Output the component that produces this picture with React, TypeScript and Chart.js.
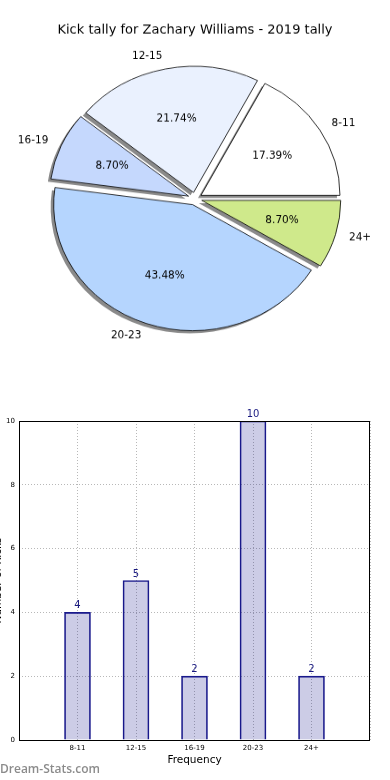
import { useEffect, useRef } from 'react';
import { Chart, registerables } from 'chart.js';

Chart.register(...registerables);

const TITLE = 'Kick tally for Zachary Williams - 2019 tally';
const categories = ['8-11', '12-15', '16-19', '20-23', '24+'];
const kicks = [4, 5, 2, 10, 2];
const pieColors = ['#ffffff', '#eaf1fe', '#c5d8fd', '#b5d5fe', '#cfe98b'];
const yTickValues = [0, 2, 4, 6, 8, 10];
const X_TITLE = 'Frequency';
const Y_TITLE = 'Number of Kicks';
const WATERMARK = 'Dream-Stats.com';

const FONT = "'DejaVu Sans', sans-serif";
const PIE_SCALE_Y = 0.907;
const PIE_RADIUS = 139;
const EXPLODE = 7;
const SHADOW_DX = -3;
const SHADOW_DY = 3;

const total = kicks.reduce((a, b) => a + b, 0);
// matplotlib draws counter-clockwise from 3 o'clock; Chart.js goes clockwise, so reverse
const pieOrder = categories.map((_, i) => categories.length - 1 - i);

function pieText(ctx: CanvasRenderingContext2D, text: string, x: number, y: number, align: CanvasTextAlign, size: number) {
  ctx.save();
  ctx.translate(x, y);
  ctx.scale(1, 1 / PIE_SCALE_Y);
  ctx.font = `${size}px ${FONT}`;
  ctx.fillStyle = '#000';
  ctx.textAlign = align;
  ctx.textBaseline = 'middle';
  ctx.fillText(text, 0, 0);
  ctx.restore();
}

const piePlugin = {
  id: 'pieDecor',
  afterDatasetsUpdate(chart: any) {
    const { chartArea } = chart;
    const cx = (chartArea.left + chartArea.right) / 2;
    const cy = (chartArea.top + chartArea.bottom) / 2;
    chart.getDatasetMeta(0).data.forEach((el: any) => {
      const mid = (el.startAngle + el.endAngle) / 2;
      el.x = cx + Math.cos(mid) * EXPLODE;
      el.y = cy + Math.sin(mid) * EXPLODE;
    });
  },
  beforeDatasetsDraw(chart: any) {
    const ctx = chart.ctx;
    ctx.save();
    ctx.translate(SHADOW_DX, SHADOW_DY);
    chart.getDatasetMeta(0).data.forEach((el: any) => {
      const saved = el.options;
      el.options = { ...saved, backgroundColor: 'rgba(30,30,30,0.52)', borderWidth: 0, borderColor: 'rgba(0,0,0,0)' };
      el.draw(ctx);
      el.options = saved;
    });
    ctx.restore();
  },
  afterDatasetsDraw(chart: any) {
    const ctx = chart.ctx;
    chart.getDatasetMeta(0).data.forEach((el: any, i: number) => {
      const idx = pieOrder[i];
      const mid = (el.startAngle + el.endAngle) / 2;
      const r = el.outerRadius;
      const c = Math.cos(mid), s = Math.sin(mid);
      pieText(ctx, categories[idx], el.x + c * r * 1.1, el.y + s * r * 1.1, c >= 0 ? 'left' : 'right', 10.5);
      const pct = ((kicks[idx] / total) * 100).toFixed(2) + '%';
      pieText(ctx, pct, el.x + c * r * 0.6, el.y + s * r * 0.6, 'center', 10.5);
    });
    pieText(ctx, TITLE, chart.width / 2, 30 / PIE_SCALE_Y, 'center', 13);
  },
};

const barPlugin = {
  id: 'barDecor',
  afterDatasetsDraw(chart: any) {
    const ctx = chart.ctx;
    const { left, top, right, bottom } = chart.chartArea;
    ctx.save();
    ctx.strokeStyle = '#000';
    ctx.lineWidth = 1;
    ctx.strokeRect(left + 0.5, top + 0.5, right - left - 1, bottom - top);
    ctx.font = `10px ${FONT}`;
    ctx.fillStyle = '#1a1a80';
    ctx.textAlign = 'center';
    ctx.textBaseline = 'alphabetic';
    chart.getDatasetMeta(0).data.forEach((bar: any, i: number) => {
      ctx.fillText(String(kicks[i]), bar.x, bar.y - 4);
    });
    ctx.font = `600 12px 'Open Sans', sans-serif`;
    ctx.fillStyle = 'rgba(110,110,110,0.8)';
    ctx.textAlign = 'left';
    ctx.textBaseline = 'middle';
    ctx.fillText(WATERMARK, 14, 370);
    ctx.restore();
  },
};

export default function App() {
  const pieRef = useRef<HTMLCanvasElement>(null);
  const barRef = useRef<HTMLCanvasElement>(null);

  useEffect(() => {
    Chart.defaults.font.family = FONT;
    const pie = new Chart(pieRef.current as HTMLCanvasElement, {
      type: 'pie',
      data: {
        labels: pieOrder.map((i) => categories[i]),
        datasets: [
          {
            data: pieOrder.map((i) => kicks[i]),
            backgroundColor: pieOrder.map((i) => pieColors[i]),
            borderColor: '#000',
            borderWidth: 0.8,
            radius: PIE_RADIUS,
          } as any,
        ],
      },
      options: {
        animation: false,
        responsive: false,
        rotation: 90,
        events: [],
        layout: { padding: 0 },
        plugins: { legend: { display: false }, tooltip: { enabled: false }, title: { display: false } },
      },
      plugins: [piePlugin],
    });

    const bar = new Chart(barRef.current as HTMLCanvasElement, {
      type: 'bar',
      data: {
        datasets: [
          {
            data: kicks.map((v, i) => ({ x: i, y: v })),
            backgroundColor: 'rgba(0,0,128,0.2)',
            borderColor: '#1a1a8c',
            borderWidth: 1,
            barThickness: 26,
          } as any,
        ],
      },
      options: {
        animation: false,
        responsive: false,
        events: [],
        layout: { padding: { top: 21, right: 20, left: 0, bottom: 0 } },
        plugins: { legend: { display: false }, tooltip: { enabled: false } },
        scales: {
          x: {
            type: 'linear',
            offset: false,
            min: -1,
            max: categories.length,
            afterBuildTicks: (s: any) => {
              s.ticks = [-1, ...categories.map((_, i) => i), categories.length].map((v) => ({ value: v }));
            },
            afterFit: (s: any) => {
              s.height = 40;
            },
            ticks: {
              callback: (v: any) => categories[v] ?? '',
              font: { size: 7, family: FONT },
              color: '#000',
              padding: 4,
              autoSkip: false,
              maxRotation: 0,
            },
            grid: { color: '#b8b8b8', lineWidth: 1, drawTicks: false, offset: false },
            border: { display: false, dash: [1, 2] },
            title: { display: true, text: X_TITLE, font: { size: 10.5, family: FONT }, color: '#000', padding: { top: 0, bottom: 13 } },
          },
          y: {
            min: 0,
            max: 10,
            afterBuildTicks: (s: any) => {
              s.ticks = yTickValues.map((v) => ({ value: v }));
            },
            afterFit: (s: any) => {
              s.width = 33;
            },
            ticks: { font: { size: 7, family: FONT }, color: '#000', padding: 4 },
            grid: { color: '#b8b8b8', lineWidth: 1, drawTicks: false },
            border: { display: false, dash: [1, 2] },
            title: { display: true, text: Y_TITLE, font: { size: 10.5, family: FONT }, color: '#000', padding: { top: 6, bottom: 0 } },
          },
        },
      } as any,
      plugins: [barPlugin],
    });

    return () => {
      pie.destroy();
      bar.destroy();
    };
  }, []);

  return (
    <div style={{ position: 'absolute', left: 0, top: 0, width: 390, height: 780, overflow: 'hidden', background: '#fff' }}>
      <div style={{ position: 'absolute', left: 0, top: 0, width: 390, height: 438, transform: `scaleY(${PIE_SCALE_Y})`, transformOrigin: 'top left' }}>
        <canvas ref={pieRef} width={390} height={438} style={{ display: 'block' }} />
      </div>
      <div style={{ position: 'absolute', left: -14, top: 400, width: 404, height: 380 }}>
        <canvas ref={barRef} width={404} height={380} style={{ display: 'block' }} />
      </div>
    </div>
  );
}
